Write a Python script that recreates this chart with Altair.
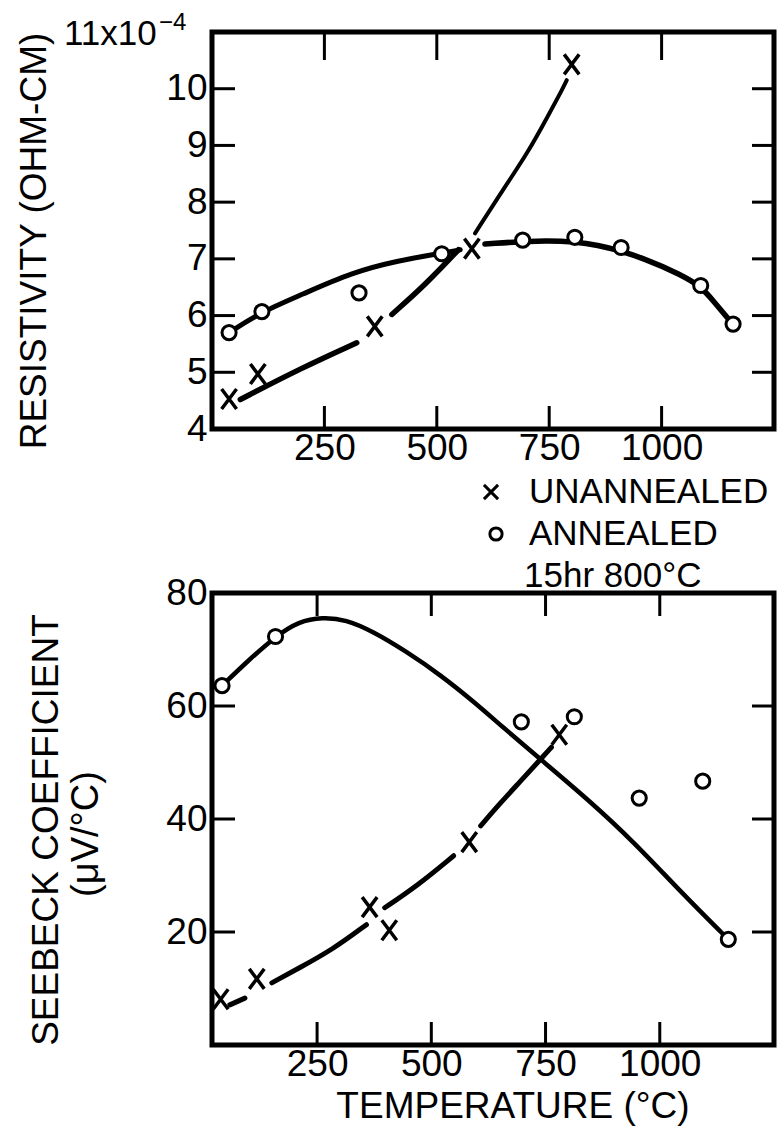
import altair as alt
import pandas as pd

# ---------------- Resistivity (x 1e-4 ohm-cm) versus temperature (°C) ----------------
res_ann_temp = [38, 111, 327, 511, 691, 807, 910, 1087, 1159]
res_ann_val = [5.70, 6.07, 6.40, 7.09, 7.33, 7.38, 7.20, 6.53, 5.85]
res_un_temp = [38, 102, 362, 578, 800]
res_un_val = [4.53, 4.97, 5.81, 7.18, 10.43]

# hand-drawn curves as knots; a new list starts wherever the pen lifts
res_ann_curve1_temp = [38, 111, 200, 311, 415, 511, 552]
res_ann_curve1_val = [5.70, 6.07, 6.37, 6.76, 6.97, 7.10, 7.16]
res_ann_curve2_temp = [607, 747, 858, 969, 1042, 1087, 1116, 1153]
res_ann_curve2_val = [7.26, 7.34, 7.27, 6.99, 6.72, 6.52, 6.25, 5.90]
res_un_curve1_temp = [63, 200, 322]
res_un_curve1_val = [4.52, 5.08, 5.52]
res_un_curve2_temp = [400, 474, 548]
res_un_curve2_val = [6.02, 6.54, 7.16]
res_un_curve3_temp = [585, 644, 704, 748, 778, 789]
res_un_curve3_val = [7.45, 8.18, 8.89, 9.53, 9.97, 10.15]

res_label_vals = [4, 5, 6, 7, 8, 9, 10]
res_tick_vals = [5, 6, 7, 8, 9, 10]

# ---------------- Seebeck coefficient (µV/°C) versus temperature (°C) ----------------
see_ann_temp = [42, 159, 697, 813, 955, 1094, 1150]
see_ann_val = [63.6, 72.3, 57.2, 58.1, 43.7, 46.7, 18.7]
see_un_temp = [39, 118, 365, 408, 583, 780]
see_un_val = [8.1, 11.7, 24.4, 20.3, 35.9, 54.9]

see_ann_curve_temp = [42, 100, 159, 210, 262, 313, 372, 446, 520, 594, 653, 737, 841, 944, 1047, 1150]
see_ann_curve_val = [63.6, 68.1, 72.3, 75.0, 75.7, 75.3, 73.2, 69.6, 65.5, 60.7, 56.5, 50.7, 43.6, 35.9, 27.0, 18.7]
see_un_curve1_temp = [59, 92]
see_un_curve1_val = [7.1, 8.3]
see_un_curve2_temp = [151, 210, 284, 358]
see_un_curve2_val = [11.0, 13.6, 16.9, 21.3]
see_un_curve3_temp = [398, 468, 549]
see_un_curve3_val = [24.3, 28.1, 33.5]
see_un_curve4_temp = [608, 653, 693, 737, 763]
see_un_curve4_val = [38.8, 43.0, 46.5, 50.4, 52.7]

see_label_vals = [20, 40, 60, 80]
see_tick_vals = [20, 40, 60]

temp_tick_vals = [250, 500, 750, 1000]

# ---------------- styling ----------------
FONT = "Liberation Sans"
W = 562
H_TOP = 397
H_BOT = 452
X_SHAPE = "M-0.75,-1L0.75,1M0.75,-1L-0.75,1"
LEGEND_X_SHAPE = "M-1,-1L1,1M1,-1L-1,1"


def frame(temps, vals):
    return pd.DataFrame({"t": temps, "v": vals})


def text_layer(label, x, y, size, angle=0, align="left", baseline="middle"):
    props = dict(font=FONT, fontSize=size, align=align, baseline=baseline, color="black")
    if angle:
        props["angle"] = angle
    return (
        alt.Chart(pd.DataFrame({"label": [label]}))
        .mark_text(**props)
        .encode(x=alt.value(x), y=alt.value(y), text="label:N")
    )


def panel(xs, ys, x_axis, y_axis, height, tick_vals, top_tick_len,
          ann_t, ann_v, un_t, un_v, curves, extra):
    X = alt.X("t:Q", scale=xs, axis=x_axis)
    Y = alt.Y("v:Q", scale=ys, axis=y_axis)
    xt = pd.DataFrame({"t": temp_tick_vals})
    yt = pd.DataFrame({"v": tick_vals})
    tick = dict(color="black", strokeWidth=3)
    layers = [
        alt.Chart(xt).mark_rule(**tick).encode(x=X, y=alt.value(height), y2=alt.value(height - 23)),
        alt.Chart(xt).mark_rule(**tick).encode(x=X, y=alt.value(0), y2=alt.value(top_tick_len)),
        alt.Chart(yt).mark_rule(**tick).encode(y=Y, x=alt.value(0), x2=alt.value(23)),
        alt.Chart(yt).mark_rule(**tick).encode(y=Y, x=alt.value(W), x2=alt.value(W - 22)),
    ]
    for temps, vals, width in curves:
        layers.append(
            alt.Chart(frame(temps, vals))
            .mark_line(color="black", strokeWidth=width, interpolate="basis", strokeCap="round")
            .encode(x=X, y=Y)
        )
    layers.append(
        alt.Chart(frame(un_t, un_v))
        .mark_point(shape=X_SHAPE, size=400, filled=False, color="black", strokeWidth=3.5, opacity=1)
        .encode(x=X, y=Y)
    )
    layers.append(
        alt.Chart(frame(ann_t, ann_v))
        .mark_point(shape="circle", size=200, filled=True, fill="white", stroke="black",
                    strokeWidth=3, opacity=1, fillOpacity=1)
        .encode(x=X, y=Y)
    )
    layers.extend(extra)
    return alt.layer(*layers).properties(width=W, height=height)


x_axis = alt.Axis(values=temp_tick_vals, title=None, labelPadding=1, labelFlush=False, format="d")

# ---- top panel: resistivity ----
top = panel(
    alt.Scale(domain=[0, 1250], nice=False, zero=False),
    alt.Scale(domain=[4, 11], nice=False, zero=False),
    x_axis,
    alt.Axis(values=res_label_vals, title=None, labelPadding=5, labelFlush=False, format="d"),
    H_TOP, res_tick_vals, 28,
    res_ann_temp, res_ann_val, res_un_temp, res_un_val,
    [
        (res_ann_curve1_temp, res_ann_curve1_val, 5),
        (res_ann_curve2_temp, res_ann_curve2_val, 5.5),
        (res_un_curve1_temp, res_un_curve1_val, 5.5),
        (res_un_curve2_temp, res_un_curve2_val, 5.5),
        (res_un_curve3_temp, res_un_curve3_val, 4),
    ],
    [
        text_layer("RESISTIVITY (OHM-CM)", -166, 209, 37, angle=270, align="center", baseline="alphabetic"),
        text_layer("11x10", -148, 2, 35),
        text_layer("\u22124", -53, -9, 24),
    ],
)

# ---- bottom panel: Seebeck coefficient ----
legend_marks = [
    alt.Chart(pd.DataFrame({"k": [0]}))
    .mark_point(shape=LEGEND_X_SHAPE, size=200, filled=False, color="black", strokeWidth=3, opacity=1)
    .encode(x=alt.value(279), y=alt.value(-101)),
    alt.Chart(pd.DataFrame({"k": [0]}))
    .mark_point(shape="circle", size=150, filled=True, fill="white", stroke="black", strokeWidth=3, opacity=1)
    .encode(x=alt.value(284), y=alt.value(-59)),
    text_layer("UNANNEALED", 317, -101, 35),
    text_layer("ANNEALED", 317, -59, 35),
    text_layer("15hr 800\u00b0C", 312, -17, 35),
]

bottom = panel(
    alt.Scale(domain=[20, 1250], nice=False, zero=False),
    alt.Scale(domain=[0, 80], nice=False),
    x_axis,
    alt.Axis(values=see_label_vals, title=None, labelPadding=5, labelFlush=False, format="d"),
    H_BOT, see_tick_vals, 23,
    see_ann_temp, see_ann_val, see_un_temp, see_un_val,
    [
        (see_ann_curve_temp, see_ann_curve_val, 4.5),
        (see_un_curve1_temp, see_un_curve1_val, 5),
        (see_un_curve2_temp, see_un_curve2_val, 5),
        (see_un_curve3_temp, see_un_curve3_val, 5),
        (see_un_curve4_temp, see_un_curve4_val, 5),
    ],
    [
        text_layer("SEEBECK COEFFICIENT", -154, 237, 37, angle=270, align="center", baseline="alphabetic"),
        text_layer("(\u03bcV/\u00b0C)", -114, 241, 38, angle=270, align="center", baseline="alphabetic"),
        text_layer("TEMPERATURE (\u00b0C)", 301, 514, 37, align="center"),
    ] + legend_marks,
)

chart = (
    alt.vconcat(top, bottom, spacing=164, bounds="flush")
    .properties(padding={"left": 13, "top": 8, "right": 0, "bottom": 0}, background="white")
    .configure_view(stroke="black", strokeWidth=5)
    .configure_axis(
        grid=False, ticks=False, domain=False,
        labelFont=FONT, labelFontSize=37, labelColor="black",
    )
)

chart.save("out.html", embed_options={"renderer": "svg", "actions": False})
